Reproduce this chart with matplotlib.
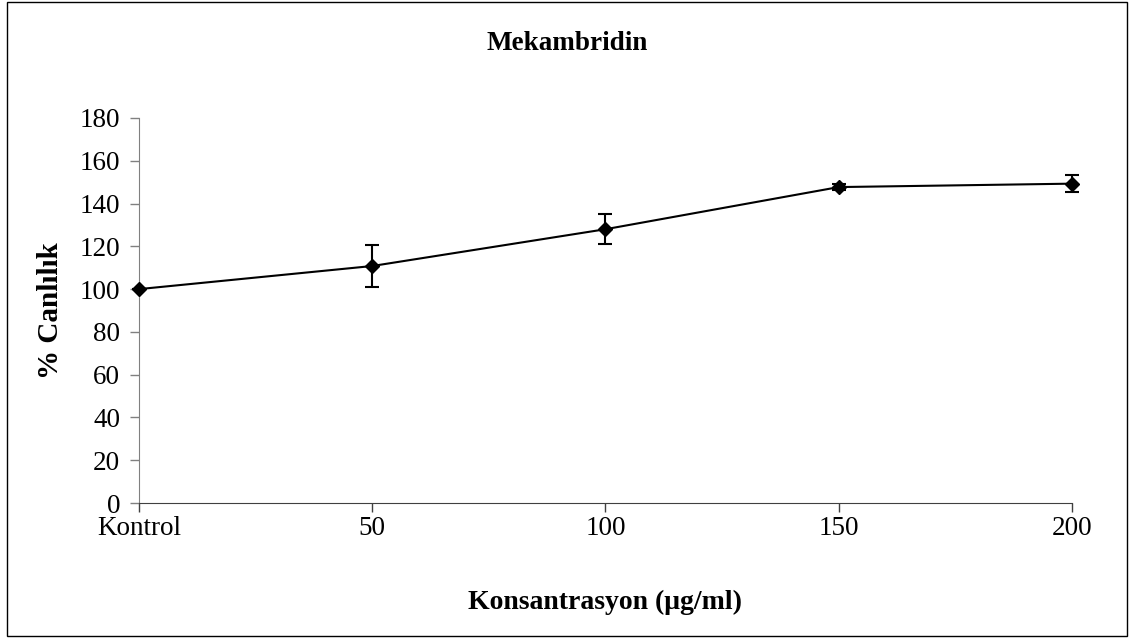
import matplotlib
matplotlib.use("Agg")
import matplotlib.pyplot as plt
from matplotlib.patches import Rectangle

# data
categories = ["Kontrol", "50", "100", "150", "200"]
viability = [100.0, 110.8, 128.0, 147.7, 149.3]
errors = [0.0, 10.0, 7.0, 1.5, 4.0]

plt.rcParams['font.family'] = ['Liberation Serif', 'DejaVu Serif']

fig = plt.figure(figsize=(11.34, 6.44), dpi=100)
ax = fig.add_axes([0.1226, 0.2189, 0.8227, 0.5979])

x = list(range(len(categories)))
ax.errorbar(x, viability, yerr=errors, color='black', lw=1.5,
            marker='D', markersize=7.5, capsize=5, elinewidth=1.5,
            capthick=1.5, clip_on=False, zorder=3)

ax.set_xlim(0, len(categories) - 1)
ax.set_ylim(0, 180)
ax.set_yticks(range(0, 181, 20))
ax.set_xticks(x)
ax.set_xticklabels(categories)

for side in ['top', 'right']:
    ax.spines[side].set_visible(False)
ax.spines['left'].set_color('#808080')
ax.spines['bottom'].set_color('#404040')

ax.tick_params(axis='y', direction='out', length=6.5, width=1,
               color='#808080', labelsize=19.5, pad=7)
ax.tick_params(axis='x', direction='out', length=6.5, width=1,
               color='#404040', labelsize=19.5, pad=3)

ax.set_ylabel('% Canlılık', fontsize=21, fontweight='bold', labelpad=11)
ax.set_xlabel('Konsantrasyon (μg/ml)', fontsize=20, fontweight='bold',
              labelpad=35)

fig.text(0.5, 0.933, 'Mekambridin', ha='center', va='center',
         fontsize=19.5, fontweight='bold')

# outer chart frame
fig.patches.append(Rectangle((0.006, 0.012), 0.988, 0.985,
                             transform=fig.transFigure, fill=False,
                             edgecolor='black', linewidth=1))

fig.savefig('out.png', dpi=100, facecolor='white')
